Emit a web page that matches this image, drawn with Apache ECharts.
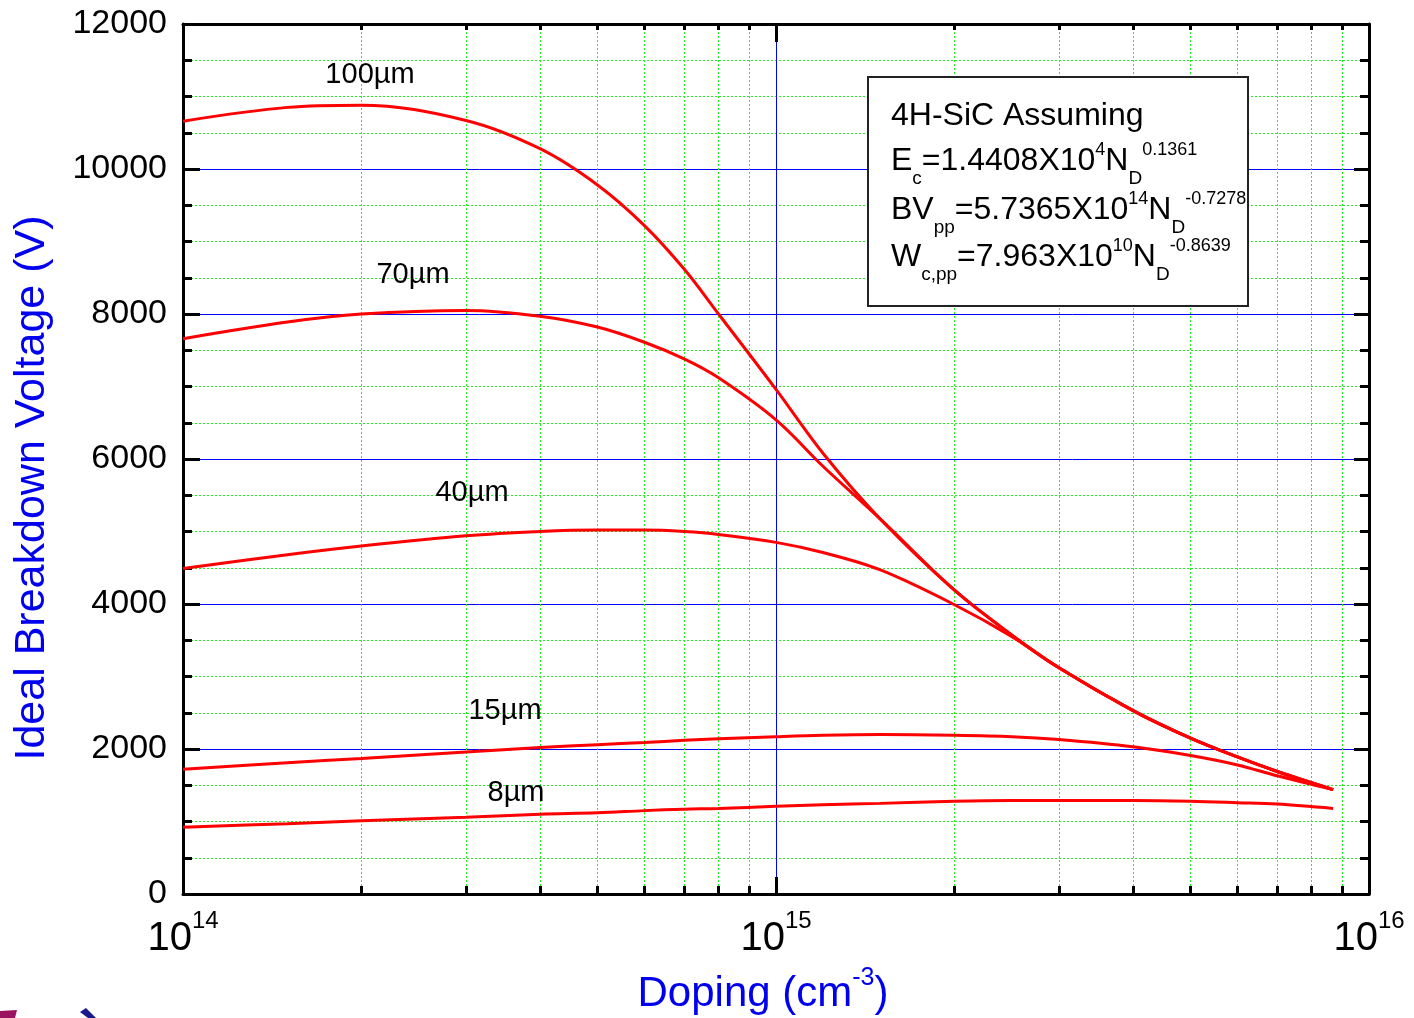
<!DOCTYPE html>
<html>
<head>
<meta charset="utf-8">
<style>
  html, body { margin: 0; padding: 0; background: #fff; }
  #chart { width: 1414px; height: 1018px; }
</style>
<script src="https://cdn.jsdelivr.net/npm/echarts@6/dist/echarts.min.js"></script>
</head>
<body>
<div id="chart"></div>
<script>
  // doping levels (cm^-3) shared by every curve
  const doping = [1e14, 1.5e14, 2e14, 3e14, 4e14, 5e14, 6e14, 7e14, 8e14, 1e15,
    1.2e15, 1.5e15, 2e15, 2.5e15, 3e15, 4e15, 5e15, 6e15, 7e15, 8.7e15];

  const bv100 = [10660, 10850, 10880, 10670, 10280, 9780, 9220, 8620, 8000, 6960,
    6080, 5170, 4190, 3570, 3120, 2530, 2150, 1890, 1690, 1440];
  const bv70 = [7660, 7890, 8000, 8050, 7970, 7820, 7610, 7380, 7120, 6540,
    5900, 5170, 4190, 3570, 3120, 2530, 2150, 1890, 1690, 1440];
  const bv40 = [4490, 4680, 4800, 4940, 5000, 5020, 5020, 5000, 4960, 4850,
    4710, 4470, 3990, 3550, 3120, 2530, 2150, 1890, 1690, 1440];
  const bv15 = [1720, 1810, 1870, 1960, 2020, 2060, 2090, 2120, 2140, 2170,
    2190, 2200, 2190, 2170, 2130, 2030, 1910, 1780, 1630, 1440];
  const bv8 = [920, 970, 1010, 1060, 1100, 1120, 1150, 1170, 1180, 1210,
    1230, 1250, 1280, 1290, 1290, 1290, 1280, 1260, 1240, 1180];

  const seriesNames = ['100µm', '70µm', '40µm', '15µm', '8µm'];
  const seriesValues = [bv100, bv70, bv40, bv15, bv8];

  const minorDoping = [2e14, 3e14, 4e14, 5e14, 6e14, 7e14, 8e14, 9e14,
    2e15, 3e15, 4e15, 5e15, 6e15, 7e15, 8e15, 9e15];
  const yTicks = { min: 0, max: 12000, interval: 2000 };

  const FONT = 'Liberation Sans, Arial, sans-serif';
  const BLUE = '#0000ee';
  const GRID_BLUE = '#0000ff';
  const GREEN = '#22ee22';

  const chart = echarts.init(document.getElementById('chart'));

  const xBase = (position, show) => ({
    type: 'log',
    logBase: 10,
    min: 1e14,
    max: 1e16,
    position: position,
    axisLine: { show: show, onZero: false, lineStyle: { color: '#000', width: 3 } },
    axisLabel: { show: false },
    splitLine: { show: false },
    minorTick: { show: false },
  });

  const yBase = (position) => ({
    type: 'value',
    min: yTicks.min,
    max: yTicks.max,
    interval: yTicks.interval,
    position: position,
    axisLine: { show: true, onZero: false, lineStyle: { color: '#000', width: 3 } },
    axisTick: { show: true, inside: true, length: position === 'left' ? 17 : 15, lineStyle: { color: '#000', width: 3 } },
    minorTick: { show: true, splitNumber: 4, length: 9, lineStyle: { color: '#000', width: 3 } },
    axisLabel: { show: false },
    splitLine: { show: false },
  });

  const xMain = xBase('bottom', true);
  xMain.axisTick = { show: true, inside: true, length: 17, lineStyle: { color: '#000', width: 3 } };
  xMain.splitLine = { show: true, lineStyle: { color: GRID_BLUE, width: 1 } };
  xMain.axisLabel = {
    show: true,
    margin: 15,
    color: '#000',
    fontFamily: FONT,
    formatter: (v) => '{b|10}{s|' + Math.round(Math.log10(v)) + '}',
    rich: {
      b: { fontSize: 40, lineHeight: 60, fontFamily: FONT, color: '#000' },
      s: { fontSize: 24, lineHeight: 24, verticalAlign: 'top', fontFamily: FONT, color: '#000' },
    },
  };

  const xMinor = xBase('bottom', false);
  xMinor.axisTick = { show: true, inside: true, length: 8, customValues: minorDoping, lineStyle: { color: '#000', width: 3 } };
  xMinor.splitLine = { show: true, lineStyle: { color: GREEN, width: 1, type: [2, 2] } };

  const xTop = xBase('top', true);
  xTop.axisTick = { show: true, inside: true, length: 18, lineStyle: { color: '#000', width: 3 } };

  const xTopMinor = xBase('top', false);
  xTopMinor.axisTick = { show: true, inside: true, length: 6, customValues: minorDoping, lineStyle: { color: '#000', width: 3 } };

  const yMain = yBase('left');
  yMain.axisLabel = { show: true, margin: 16, fontSize: 34, color: '#000', fontFamily: FONT, formatter: (v) => String(v) };
  yMain.splitLine = { show: true, lineStyle: { color: GRID_BLUE, width: 1 } };
  yMain.minorSplitLine = { show: true, lineStyle: { color: GREEN, width: 1, type: [2, 2] } };

  const yRight = yBase('right');

  const curveLabels = [
    { text: '100µm', x: 370, y: 75 },
    { text: '70µm', x: 413, y: 275 },
    { text: '40µm', x: 472, y: 493 },
    { text: '15µm', x: 505, y: 711 },
    { text: '8µm', x: 516, y: 793 },
  ];

  const legendRich = {
    m: { fontSize: 32, lineHeight: 54, fontFamily: FONT, fill: '#000' },
    sb: { fontSize: 19, lineHeight: 19, verticalAlign: 'bottom', fontFamily: FONT, fill: '#000' },
    sp: { fontSize: 18, lineHeight: 18, verticalAlign: 'top', padding: [7, 0, 0, 0], fontFamily: FONT, fill: '#000' },
  };
  const legendLines = [
    { text: '{m|4H-SiC Assuming}', y: 89 },
    { text: '{m|E}{sb|c}{m|=1.4408X10}{sp|4}{m|N}{sb|D}{sp|0.1361}', y: 134 },
    { text: '{m|BV}{sb|pp}{m|=5.7365X10}{sp|14}{m|N}{sb|D}{sp|-0.7278}', y: 183 },
    { text: '{m|W}{sb|c,pp}{m|=7.963X10}{sp|10}{m|N}{sb|D}{sp|-0.8639}', y: 230 },
  ];

  const graphics = [
    {
      type: 'rect',
      z: 100,
      shape: { x: 868, y: 77, width: 380, height: 229 },
      style: { fill: '#fff', stroke: '#222', lineWidth: 2 },
    },
    ...legendLines.map((l) => ({
      type: 'text',
      z: 101,
      x: 891,
      y: l.y,
      style: { text: l.text, rich: legendRich, verticalAlign: 'top', align: 'left', fill: '#000' },
    })),
    ...curveLabels.map((l) => ({
      type: 'text',
      z: 101,
      x: l.x,
      y: l.y,
      style: { text: l.text, font: '29px ' + FONT, fill: '#000', align: 'center', verticalAlign: 'middle' },
    })),
    {
      type: 'text',
      z: 101,
      x: 32,
      y: 488,
      rotation: Math.PI / 2,
      style: { text: 'Ideal Breakdown Voltage (V)', font: '43px ' + FONT, fill: BLUE, align: 'center', verticalAlign: 'middle' },
    },
    {
      type: 'text',
      z: 101,
      x: 763,
      y: 994,
      style: {
        text: '{m|Doping (cm}{s|-3}{m|)}',
        align: 'center',
        verticalAlign: 'middle',
        rich: {
          m: { fontSize: 42, lineHeight: 56, fontFamily: FONT, fill: BLUE },
          s: { fontSize: 25, lineHeight: 30, verticalAlign: 'top', fontFamily: FONT, fill: BLUE },
        },
      },
    },
    // cut-off logo bits in the bottom-left corner
    {
      type: 'polygon',
      shape: { points: [[0, 1011], [17, 1010], [15, 1018], [0, 1018]] },
      style: { fill: '#9b1360' },
    },
    {
      type: 'polygon',
      shape: { points: [[80, 1012], [86, 1008], [96, 1018], [88, 1018]] },
      style: { fill: '#1a1a8c' },
    },
  ];

  const option = {
    animation: false,
    backgroundColor: '#fff',
    grid: { left: 183, right: 45, top: 24, bottom: 124, containLabel: false },
    xAxis: [xMain, xMinor, xTop, xTopMinor],
    yAxis: [yMain, yRight],
    series: seriesValues.map((vals, i) => ({
      name: seriesNames[i],
      type: 'line',
      xAxisIndex: 0,
      yAxisIndex: 0,
      smooth: 0.35,
      showSymbol: false,
      symbol: 'none',
      lineStyle: { color: '#ff0000', width: 3 },
      data: doping.map((d, j) => [d, vals[j]]),
      z: 5,
    })),
    graphic: graphics,
  };

  chart.setOption(option);
</script>
</body>
</html>
